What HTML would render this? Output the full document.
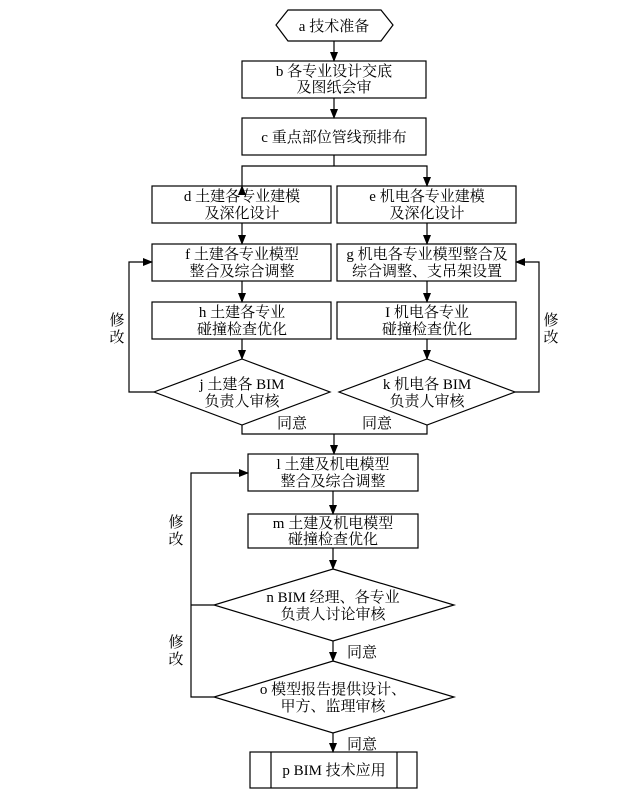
<!DOCTYPE html>
<html><head><meta charset="utf-8"><style>
html,body{margin:0;padding:0;background:#fff;}
svg text{font-family:"Liberation Serif","Noto Serif CJK SC",serif;font-size:15px;fill:#000;text-anchor:middle;}
</style></head><body>
<svg width="631" height="798" viewBox="0 0 631 798" xmlns="http://www.w3.org/2000/svg">
<defs><marker id="ar" markerWidth="10" markerHeight="10" refX="9" refY="5" orient="auto" markerUnits="userSpaceOnUse"><path d="M0,1 L10,5 L0,9 Z" fill="#000"/></marker></defs>
<g fill="none" stroke="#000" stroke-width="1.2">
<polygon points="276,25 288,10 381,10 393,25 381,41 288,41"/>
<rect x="242" y="61" width="184" height="37"/>
<rect x="242" y="118" width="184" height="37"/>
<rect x="152" y="186" width="179" height="37"/>
<rect x="337" y="186" width="179" height="37"/>
<rect x="152" y="244" width="179" height="37"/>
<rect x="337" y="244" width="179" height="37"/>
<rect x="152" y="302" width="179" height="37"/>
<rect x="337" y="302" width="179" height="37"/>
<polygon points="242,359 330,392 242,425 154,392"/>
<polygon points="427,359 515,392 427,425 339,392"/>
<rect x="248" y="454" width="170" height="37"/>
<rect x="248" y="514" width="170" height="34"/>
<polygon points="333,569 454,605 333,641 214,605"/>
<polygon points="333,661 454,697 333,733 214,697"/>
<rect x="250" y="752" width="167" height="36"/>
<line x1="271" y1="752" x2="271" y2="788"/>
<line x1="397" y1="752" x2="397" y2="788"/>
<line x1="334" y1="41" x2="334" y2="61" marker-end="url(#ar)"/>
<line x1="334" y1="98" x2="334" y2="118" marker-end="url(#ar)"/>
<line x1="334" y1="155" x2="334" y2="166"/>
<polyline points="242,186 242,166 427,166 427,186" marker-start="url(#ar)" marker-end="url(#ar)"/>
<line x1="242" y1="223" x2="242" y2="244" marker-end="url(#ar)"/>
<line x1="427" y1="223" x2="427" y2="244" marker-end="url(#ar)"/>
<line x1="242" y1="281" x2="242" y2="302" marker-end="url(#ar)"/>
<line x1="427" y1="281" x2="427" y2="302" marker-end="url(#ar)"/>
<line x1="242" y1="339" x2="242" y2="359" marker-end="url(#ar)"/>
<line x1="427" y1="339" x2="427" y2="359" marker-end="url(#ar)"/>
<polyline points="154,392 129,392 129,262 152,262" marker-end="url(#ar)"/>
<polyline points="515,392 539,392 539,262 516,262" marker-end="url(#ar)"/>
<polyline points="242,425 242,434 427,434 427,425"/>
<line x1="334" y1="434" x2="334" y2="454" marker-end="url(#ar)"/>
<line x1="333" y1="491" x2="333" y2="514" marker-end="url(#ar)"/>
<line x1="333" y1="548" x2="333" y2="569" marker-end="url(#ar)"/>
<line x1="333" y1="641" x2="333" y2="661" marker-end="url(#ar)"/>
<line x1="333" y1="733" x2="333" y2="752" marker-end="url(#ar)"/>
<polyline points="214,697 191,697 191,473 248,473" marker-end="url(#ar)"/>
<line x1="191" y1="605" x2="214" y2="605"/>
</g>
<text x="334" y="31">a 技术准备</text>
<text x="334" y="76">b 各专业设计交底</text>
<text x="334" y="92">及图纸会审</text>
<text x="334" y="142">c 重点部位管线预排布</text>
<text x="242" y="201">d 土建各专业建模</text>
<text x="242" y="218">及深化设计</text>
<text x="427" y="201">e 机电各专业建模</text>
<text x="427" y="218">及深化设计</text>
<text x="242" y="259">f 土建各专业模型</text>
<text x="242" y="276">整合及综合调整</text>
<text x="427" y="259">g 机电各专业模型整合及</text>
<text x="427" y="276">综合调整、支吊架设置</text>
<text x="242" y="317">h 土建各专业</text>
<text x="242" y="334">碰撞检查优化</text>
<text x="427" y="317">I 机电各专业</text>
<text x="427" y="334">碰撞检查优化</text>
<text x="242" y="389">j 土建各 BIM</text>
<text x="242" y="406">负责人审核</text>
<text x="427" y="389">k 机电各 BIM</text>
<text x="427" y="406">负责人审核</text>
<text x="117" y="325">修</text>
<text x="117" y="342">改</text>
<text x="551" y="325">修</text>
<text x="551" y="342">改</text>
<text x="292" y="428">同意</text>
<text x="377" y="428">同意</text>
<text x="333" y="469">l 土建及机电模型</text>
<text x="333" y="486">整合及综合调整</text>
<text x="333" y="528">m 土建及机电模型</text>
<text x="333" y="544">碰撞检查优化</text>
<text x="333" y="602">n BIM 经理、各专业</text>
<text x="333" y="619">负责人讨论审核</text>
<text x="333" y="694">o 模型报告提供设计、</text>
<text x="333" y="711">甲方、监理审核</text>
<text x="176" y="527">修</text>
<text x="176" y="544">改</text>
<text x="176" y="647">修</text>
<text x="176" y="664">改</text>
<text x="362" y="657">同意</text>
<text x="362" y="749">同意</text>
<text x="334" y="775">p BIM 技术应用</text>
</svg>
</body></html>
